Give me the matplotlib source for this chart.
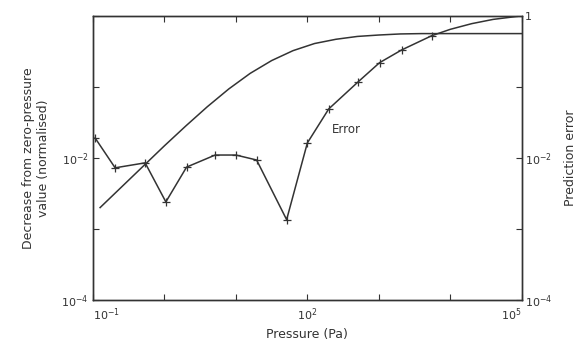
import matplotlib
matplotlib.use("Agg")
import matplotlib.pyplot as plt
import numpy as np

# smooth response curve (log10 pressure, log10 decrease)
resp_logp = [-0.90, -0.60, -0.30, 0.00, 0.30, 0.60, 0.90, 1.20, 1.50, 1.80,
             2.10, 2.40, 2.70, 3.00, 3.30, 3.60, 5.0]
resp_logv = [-2.70, -2.41, -2.12, -1.83, -1.55, -1.28, -1.03, -0.81, -0.63, -0.49,
             -0.39, -0.33, -0.29, -0.27, -0.255, -0.25, -0.25]

# prediction error (markers only on measured points)
err_logp = [-0.97, -0.69, -0.27, 0.02, 0.31, 0.71, 1.0, 1.29, 1.71, 2.0, 2.30, 2.71, 3.01, 3.32, 3.74,
            4.00, 4.30, 4.60, 5.0]
err_logv = [-1.72, -2.14, -2.07, -2.62, -2.13, -1.96, -1.96, -2.03, -2.87, -1.79, -1.31, -0.93, -0.66, -0.48, -0.28,
            -0.19, -0.11, -0.05, 0.0]
n_marked = 15

xlim = (1e-1, 1e5)
ylim = (1e-4, 1)
xtick_pos = [1e-1, 1e2, 1e5]
xtick_lab = [r'$10^{-1}$', r'$10^{2}$', r'$10^{5}$']
lytick_pos = [1e-4, 1e-2]
lytick_lab = [r'$10^{-4}$', r'$10^{-2}$']
rytick_pos = [1e-4, 1e-2, 1]
rytick_lab = [r'$10^{-4}$', r'$10^{-2}$', '1']

ink = '#333333'
plt.rcParams['font.family'] = 'DejaVu Sans'
plt.rcParams['mathtext.default'] = 'regular'

fig = plt.figure(figsize=(5.81, 3.52), dpi=100)
ax = fig.add_axes([0.160, 0.148, 0.738, 0.807])

rx = 10 ** np.array(resp_logp)
ry = 10 ** np.array(resp_logv)
ex = 10 ** np.array(err_logp)
ey = 10 ** np.array(err_logv)

ax.plot(rx, ry, color=ink, linewidth=1.1)
ax.plot(ex, ey, color=ink, linewidth=1.1, marker='+', markersize=5.5,
        markeredgewidth=0.9, markevery=list(range(n_marked)))
ax.text(10 ** 2.55, 10 ** -1.6, 'Error', fontsize=8.5, color=ink,
        ha='center', va='center')

ax.set_xscale('log')
ax.set_yscale('log')
ax.set_xlim(*xlim)
ax.set_ylim(*ylim)

ax.set_xticks(10.0 ** np.arange(-1, 6))
ax.set_xticklabels([xtick_lab[xtick_pos.index(v)] if v in xtick_pos else ''
                    for v in 10.0 ** np.arange(-1, 6)])
ax.set_yticks(10.0 ** np.arange(-4, 1))
ax.set_yticklabels([lytick_lab[lytick_pos.index(v)] if v in lytick_pos else ''
                    for v in 10.0 ** np.arange(-4, 1)])
ax.minorticks_off()
ax.tick_params(direction='in', length=4, width=0.8, colors=ink, labelsize=8,
               top=True, pad=3)
ax.tick_params(axis='x', pad=5)
xl = ax.get_xticklabels()
xl[0].set_ha('left')
xl[-1].set_ha('right')

ax2 = ax.twinx()
ax2.set_yscale('log')
ax2.set_ylim(*ylim)
ax2.set_yticks(10.0 ** np.arange(-4, 1))
ax2.set_yticklabels([rytick_lab[rytick_pos.index(v)] if v in rytick_pos else ''
                     for v in 10.0 ** np.arange(-4, 1)])
ax2.minorticks_off()
ax2.tick_params(direction='in', length=4, width=0.8, colors=ink, labelsize=8, pad=2)

for a in (ax, ax2):
    for s in a.spines.values():
        s.set_color(ink)
        s.set_linewidth(1.0)

ax.set_xlabel('Pressure (Pa)', fontsize=9, color=ink, labelpad=3)
ax.set_ylabel('Decrease from zero-pressure\nvalue (normalised)', fontsize=9,
              color=ink, labelpad=8)
ax2.set_ylabel('Prediction error', fontsize=9, color=ink, labelpad=9)

fig.savefig('out.png', dpi=100)
